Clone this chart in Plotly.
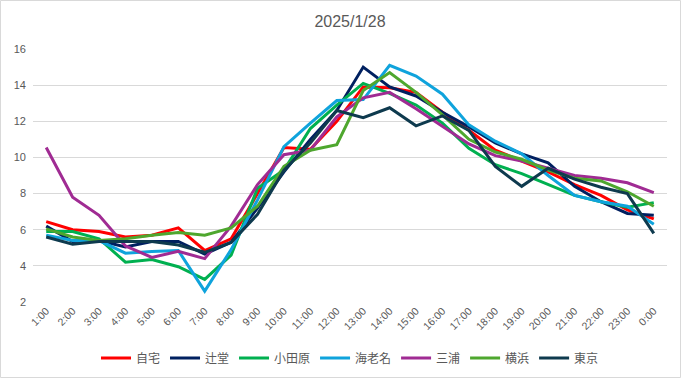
import plotly.graph_objects as go

hours = ["1:00", "2:00", "3:00", "4:00", "5:00", "6:00", "7:00", "8:00", "9:00", "10:00",
         "11:00", "12:00", "13:00", "14:00", "15:00", "16:00", "17:00", "18:00", "19:00",
         "20:00", "21:00", "22:00", "23:00", "0:00"]

jitaku = [6.45, 6.0, 5.9, 5.6, 5.7, 6.1, 4.85, 5.5, 8.0, 10.55, 10.45, 12.0, 13.9, 13.85, 13.6,
          12.5, 11.5, 10.4, 9.8, 9.2, 8.5, 7.9, 7.1, 6.6]
tsujido = [6.2, 5.35, 5.4, 5.05, 5.35, 5.35, 4.65, 5.3, 7.2, 9.2, 11.0, 12.6, 15.0, 13.9, 13.4,
           12.5, 11.7, 10.8, 10.2, 9.7, 8.4, 7.55, 6.9, 6.8]
odawara = [5.9, 5.9, 5.5, 4.2, 4.35, 3.95, 3.25, 4.6, 8.3, 9.3, 11.6, 12.9, 14.1, 13.55, 12.9,
           11.9, 10.5, 9.6, 9.1, 8.5, 7.9, 7.55, 7.25, 7.5]
ebina = [5.7, 5.4, 5.4, 4.7, 4.8, 4.85, 2.6, 4.9, 7.65, 10.6, 11.9, 13.15, 13.2, 15.1, 14.5,
         13.5, 11.8, 10.9, 10.2, 9.0, 7.9, 7.55, 7.3, 6.3]
miura = [10.55, 7.8, 6.8, 5.1, 4.47, 4.8, 4.4, 6.2, 8.5, 10.15, 10.4, 12.25, 13.3, 13.6, 12.7,
         11.7, 10.75, 10.1, 9.8, 9.4, 9.0, 8.85, 8.6, 8.05]
yokohama = [6.05, 5.6, 5.4, 5.5, 5.7, 5.85, 5.7, 6.1, 7.3, 9.5, 10.4, 10.7, 13.7, 14.7, 13.6,
            12.35, 11.0, 10.3, 9.9, 9.3, 8.85, 8.7, 8.1, 7.3]
tokyo = [5.6, 5.2, 5.35, 5.35, 5.35, 5.15, 4.75, 5.3, 6.85, 9.3, 10.8, 12.6, 12.2, 12.75, 11.75,
         12.3, 11.5, 9.5, 8.4, 9.4, 8.8, 8.35, 8.0, 5.8]

series_names = ["自宅", "辻堂", "小田原", "海老名", "三浦", "横浜", "東京"]
series_values = [jitaku, tsujido, odawara, ebina, miura, yokohama, tokyo]
series_colors = ["#FF0000", "#002060", "#00B050", "#0FA3DC", "#A02B93", "#4EA72E", "#0E3A4E"]

y_ticks = [2, 4, 6, 8, 10, 12, 14, 16]

FONT = "Liberation Sans, Arial, Noto Sans CJK JP, sans-serif"

fig = go.Figure()
for name, vals, col in zip(series_names, series_values, series_colors):
    fig.add_trace(go.Scatter(x=hours, y=vals, mode="lines", name=name,
                             line=dict(color=col, width=3)))

L, R, T, B = 33, 14, 49, 77
W, H = 681, 379
pw, ph = W - L - R, H - T - B

fig.update_layout(
    width=W, height=H,
    margin=dict(l=L, r=R, t=T, b=B, autoexpand=False),
    paper_bgcolor="white", plot_bgcolor="white",
    font=dict(family=FONT, color="#595959", size=11),
    title=dict(text="2025/1/28", x=0.5, xanchor="center", xref="paper",
               y=1 - 21 / H, yref="container", yanchor="middle",
               font=dict(size=16, color="#595959", family=FONT)),
    xaxis=dict(type="category", range=[-0.5, len(hours) - 0.5], tickangle=-45,
               showgrid=False, zeroline=False, automargin=False,
               showline=False, ticks="", tickfont=dict(size=10.5, color="#595959")),
    yaxis=dict(range=[2, 16], tickvals=y_ticks, showgrid=True, gridcolor="#D9D9D9",
               gridwidth=1, zeroline=False, showline=False, ticks="", automargin=False,
               ticklabelstandoff=6,
               tickfont=dict(size=11, color="#595959")),
    legend=dict(orientation="h", x=0.5, xanchor="center", xref="paper",
                y=(H - 358) / H, yref="container", yanchor="middle",
                font=dict(size=12, color="#595959"), itemwidth=30, tracegroupgap=0,
                bgcolor="rgba(0,0,0,0)"),
    showlegend=True,
)

fig.add_shape(type="rect", xref="paper", yref="paper",
              x0=-(L - 0.5) / pw, x1=1 + (R - 0.5) / pw,
              y0=-(B - 1.5) / ph, y1=1 + (T - 0.5) / ph,
              line=dict(color="#D9D9D9", width=1), fillcolor="rgba(0,0,0,0)", layer="below")

fig.write_html("out.html", config={"displayModeBar": False},
               post_script="document.body.style.margin='0';document.body.style.overflow='hidden';")
